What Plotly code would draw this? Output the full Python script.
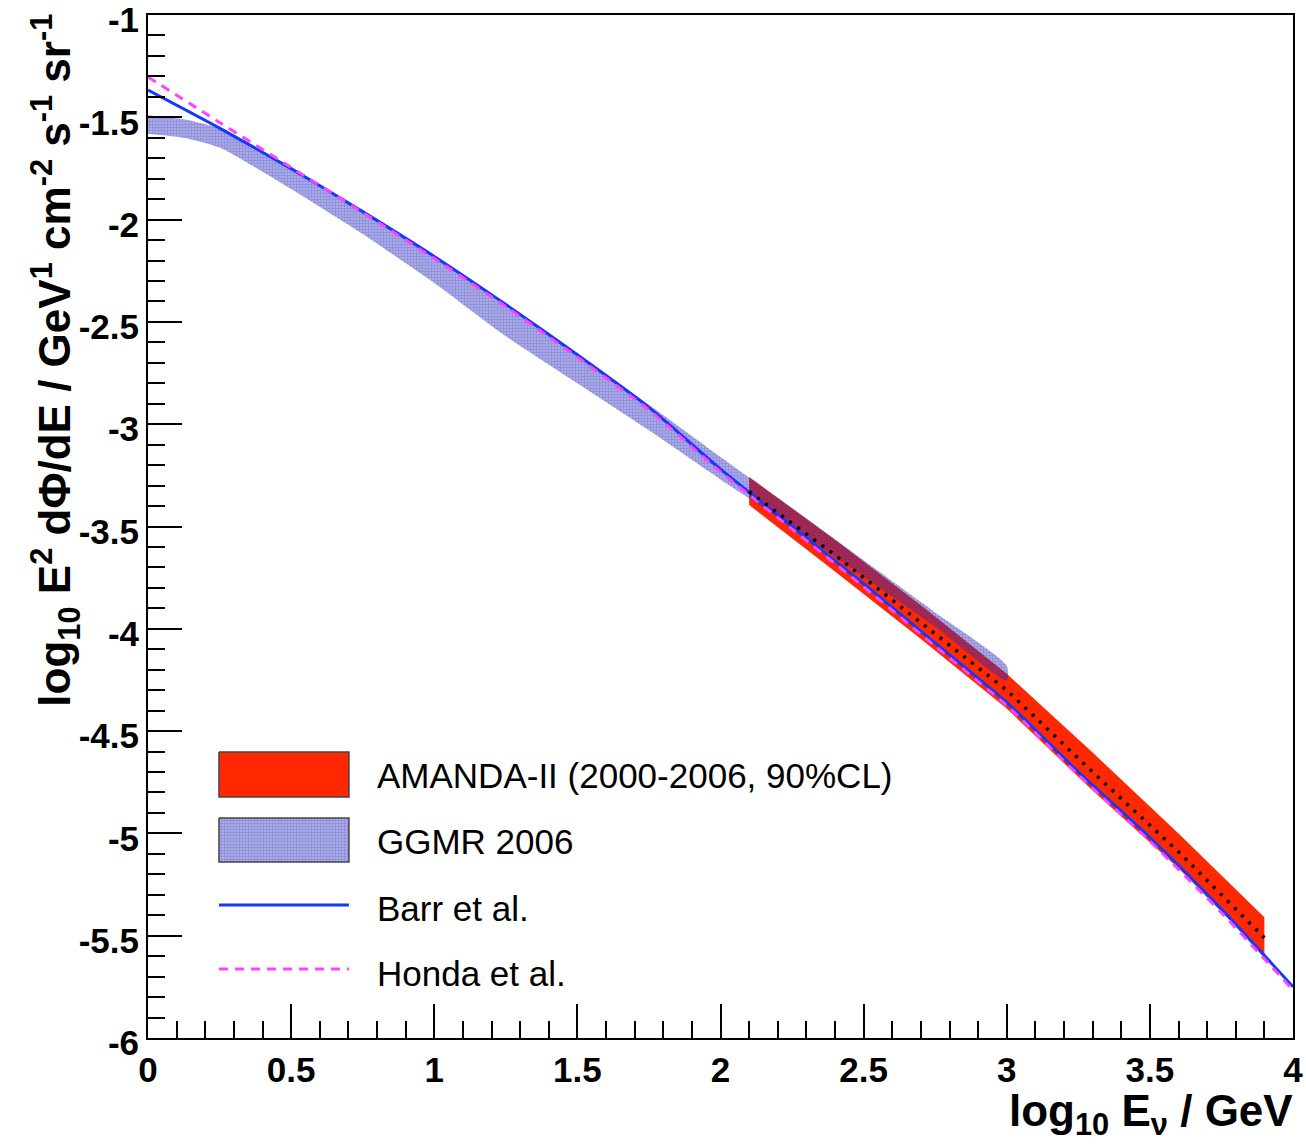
import plotly.graph_objects as go

# ---- data -------------------------------------------------------------
energy_grid = [0.0, 0.25, 0.5, 0.75, 1.0, 1.25, 1.5, 1.75, 2.0,
               2.25, 2.5, 2.75, 3.0, 3.25, 3.5, 3.75, 4.0]
barr_flux = [-1.367, -1.553, -1.751, -1.961, -2.180, -2.415, -2.661, -2.918,
             -3.220, -3.500, -3.780, -4.070, -4.360, -4.700, -5.020, -5.370, -5.750]
honda_flux = [-1.303, -1.525, -1.745, -1.965, -2.190, -2.425, -2.672, -2.930,
              -3.232, -3.513, -3.795, -4.085, -4.375, -4.715, -5.038, -5.388, -5.765]

ggmr_x = [0.0, 0.125, 0.25, 0.375, 0.5, 0.75, 1.0, 1.25, 1.5, 1.75, 2.0,
          2.25, 2.5, 2.75, 3.0]
ggmr_upper = [-1.49, -1.51, -1.555, -1.655, -1.75, -1.955, -2.18, -2.425, -2.66,
              -2.905, -3.16, -3.41, -3.665, -3.92, -4.18]
ggmr_lower = [-1.58, -1.60, -1.648, -1.745, -1.85, -2.07, -2.31, -2.57, -2.80,
              -3.03, -3.27, -3.50, -3.745, -3.99, -4.255]

amanda_x = [2.1, 2.4, 2.7, 3.0, 3.3, 3.6, 3.9]
amanda_upper = [-3.258, -3.565, -3.885, -4.22, -4.605, -5.0, -5.41]
amanda_lower = [-3.395, -3.72, -4.05, -4.39, -4.79, -5.17, -5.595]
amanda_best = [-3.33, -3.64, -3.97, -4.30, -4.70, -5.09, -5.51]

legend_labels = ["AMANDA-II (2000-2006, 90%CL)", "GGMR 2006", "Barr et al.", "Honda et al."]

x_tickvals = [0, 0.5, 1, 1.5, 2, 2.5, 3, 3.5, 4]
x_ticktext = ["0", "0.5", "1", "1.5", "2", "2.5", "3", "3.5", "4"]
y_tickvals = [-6, -5.5, -5, -4.5, -4, -3.5, -3, -2.5, -2, -1.5, -1]
y_ticktext = ["-6", "-5.5", "-5", "-4.5", "-4", "-3.5", "-3", "-2.5", "-2", "-1.5", "-1"]

# ---- styles -----------------------------------------------------------
RED = "#ff2800"
BLUE = "#1438ff"
MAGENTA = "#ff44ff"
CHECK = "#2828bc"
FONT = "Liberation Sans"

checker = dict(shape=".", size=3, solidity=0.82, fgcolor=CHECK,
               bgcolor="rgba(0,0,0,0)", fillmode="overlay")

fig = go.Figure()

# AMANDA-II allowed band
fig.add_trace(go.Scatter(
    x=amanda_x + amanda_x[::-1], y=amanda_upper + amanda_lower[::-1],
    fill="toself", fillcolor=RED, line=dict(width=0), mode="lines",
    hoverinfo="skip", showlegend=False))

# GGMR 2006 band (checkered)
fig.add_trace(go.Scatter(
    x=ggmr_x + ggmr_x[::-1], y=ggmr_upper + ggmr_lower[::-1],
    fill="toself", fillcolor="rgba(0,0,0,0)", fillpattern=checker,
    line=dict(width=0, shape="spline", smoothing=0.6), mode="lines",
    hoverinfo="skip", showlegend=False))

# model predictions
fig.add_trace(go.Scatter(x=energy_grid, y=barr_flux, mode="lines",
                         line=dict(color=BLUE, width=3, shape="spline", smoothing=0.6),
                         showlegend=False))
fig.add_trace(go.Scatter(x=energy_grid, y=honda_flux, mode="lines",
                         line=dict(color=MAGENTA, width=3, dash="9px,7px",
                                   shape="spline", smoothing=0.6),
                         showlegend=False))

# AMANDA best fit
fig.add_trace(go.Scatter(x=amanda_x, y=amanda_best, mode="lines",
                         line=dict(color="black", width=3.5, dash="3px,7px"),
                         showlegend=False))

# ---- legend drawn on an overlay axis in plot-fraction units -----------
lx0, lx1 = 0.062, 0.1755
rows = [(0.2796, 0.2356), (0.2151, 0.172)]
fig.add_trace(go.Scatter(
    x=[lx0, lx1, lx1, lx0, lx0], y=[rows[0][0], rows[0][0], rows[0][1], rows[0][1], rows[0][0]],
    fill="toself", fillcolor=RED, line=dict(color="#444444", width=1.5),
    mode="lines", xaxis="x2", yaxis="y2", hoverinfo="skip", showlegend=False))
fig.add_trace(go.Scatter(
    x=[lx0, lx1, lx1, lx0, lx0], y=[rows[1][0], rows[1][0], rows[1][1], rows[1][1], rows[1][0]],
    fill="toself", fillcolor="rgba(0,0,0,0)", fillpattern=checker,
    line=dict(color="#444444", width=1.5),
    mode="lines", xaxis="x2", yaxis="y2", hoverinfo="skip", showlegend=False))
fig.add_trace(go.Scatter(x=[lx0, lx1], y=[0.130, 0.130], mode="lines",
                         line=dict(color=BLUE, width=3),
                         xaxis="x2", yaxis="y2", hoverinfo="skip", showlegend=False))
fig.add_trace(go.Scatter(x=[lx0, lx1], y=[0.0674, 0.0674], mode="lines",
                         line=dict(color=MAGENTA, width=3, dash="9px,7px"),
                         xaxis="x2", yaxis="y2", hoverinfo="skip", showlegend=False))

annotations = []
for label, yy in zip(legend_labels, [0.257, 0.1916, 0.127, 0.0635]):
    annotations.append(dict(
        text=label, x=0.198, y=yy, xref="x2", yref="y2",
        xanchor="left", yanchor="middle", showarrow=False,
        font=dict(family=FONT, size=35, color="black")))

# axis titles
annotations.append(dict(
    text="log<sub>10</sub> E<sup>2</sup> dΦ/dE / GeV<sup>1</sup> cm<sup>-2</sup> s<sup>-1</sup> sr<sup>-1</sup>",
    x=-0.081, y=1.003, xref="paper", yref="paper", xanchor="center", yanchor="top",
    textangle=-90, showarrow=False,
    font=dict(family=FONT, size=44, color="black", weight="bold")))
annotations.append(dict(
    text="log<sub>10</sub> E<sub>ν</sub> / GeV",
    x=1.002, y=-0.045, xref="paper", yref="paper", xanchor="right", yanchor="top",
    showarrow=False,
    font=dict(family=FONT, size=44, color="black", weight="bold")))

axis_common = dict(
    showline=True, mirror=True, linecolor="black", linewidth=2,
    showgrid=False, zeroline=False, ticks="inside", ticklen=34, tickwidth=1.5,
    tickcolor="black", tickmode="array", ticklabeloverflow="allow",
    automargin=False,
    tickfont=dict(family=FONT, size=35, color="black", weight="bold"),
    minor=dict(ticks="inside", ticklen=17, tickwidth=1.5, tickcolor="black",
               tickmode="linear", dtick=0.1, showgrid=False),
)

fig.update_layout(
    width=1306, height=1146, autosize=False,
    margin=dict(l=148, r=13, t=15, b=108),
    paper_bgcolor="white", plot_bgcolor="white",
    xaxis=dict(range=[0, 4], tickvals=x_tickvals, ticktext=x_ticktext,
               minor_tick0=0, **axis_common),
    yaxis=dict(range=[-6, -1], tickvals=y_tickvals, ticktext=y_ticktext,
               minor_tick0=-6, ticklabelshift=5, **axis_common),
    xaxis2=dict(range=[0, 1], overlaying="x", visible=False),
    yaxis2=dict(range=[0, 1], overlaying="y", visible=False),
    annotations=annotations,
    showlegend=False,
)

fig.write_html("out.html")
